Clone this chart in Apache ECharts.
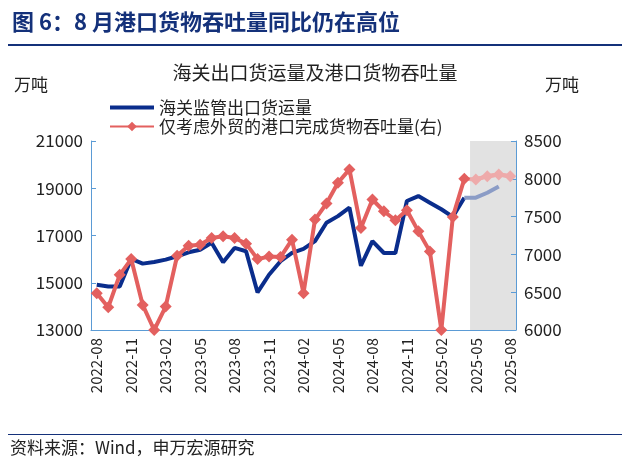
<!DOCTYPE html><html><head><meta charset="utf-8"><script src="https://cdn.jsdelivr.net/npm/echarts@6/dist/echarts.min.js"></script>
<style>body{margin:0}#c{width:630px;height:467px}</style></head><body><div id="c"></div><script>
const months=[];for(let y=2022,m=8;!(y==2025&&m==9);){months.push(y+'-'+String(m).padStart(2,'0'));m++;if(m>12){m=1;y++;}}
const customs=[14915,14845,14845,16007,15810,15880,15980,16120,16290,16400,16690,15865,16475,16333,14590,15340,15910,16260,16430,16760,17540,17820,18180,15720,16760,16260,16260,18460,18670,18390,18110,17790,18600,18600,18810,19070,null];
const port=[6487,6301,6730,6938,6332,6000,6310,6982,7115,7128,7217,7239,7217,7142,6938,6973,6965,7195,6487,7460,7673,7947,8124,7350,7726,7571,7451,7584,7305,7040,6000,7496,8000,7991,8035,8058,8035];
const splitIdx=32;
const solid=a=>a.map((v,i)=>i<=splitIdx?v:null), fut=a=>a.map((v,i)=>i>=splitIdx?v:null);
const blue='#0a2d8c',red='#e3605f',lred='#eeaaaa';
const ch=echarts.init(document.getElementById('c'));
const ff='"Noto Sans CJK SC"';
const graphics=[
{type:'text',left:12,top:11,style:{text:'图 6：8 月港口货物吞吐量同比仍在高位',fill:'#14317a',font:'bold 22px '+ff}},
{type:'rect',shape:{x:8,y:44,width:614,height:2},style:{fill:'#14317a'}},
{type:'text',left:14,top:76,style:{text:'万吨',fill:'#222',font:'17px '+ff}},
{type:'text',left:545,top:76,style:{text:'万吨',fill:'#222',font:'17px '+ff}},
{type:'rect',shape:{x:8,y:434,width:614,height:1},style:{fill:'#14317a'}},
{type:'text',left:10,top:439,style:{text:'资料来源：Wind，申万宏源研究',fill:'#222',font:'17px '+ff}}
];
const fmt=v=>String(v);
ch.setOption({animation:false,textStyle:{fontFamily:ff},graphic:graphics,
title:{text:'海关出口货运量及港口货物吞吐量',left:'center',top:58,textStyle:{fontSize:19,fontWeight:'normal',color:'#222',fontFamily:ff}},
legend:{orient:'vertical',left:104,top:94,itemGap:2,itemWidth:44,itemHeight:12,textStyle:{fontSize:17,color:'#222',fontFamily:ff},
 data:[{name:'海关监管出口货运量',icon:'path://M0,0h44v4h-44z'},'仅考虑外贸的港口完成货物吞吐量(右)']},
grid:{left:91,right:114,top:141,bottom:137},
xAxis:{type:'category',data:months,boundaryGap:true,axisLine:{lineStyle:{color:'#5b9bd5'}},
 axisTick:{interval:2,lineStyle:{color:'#5b9bd5'}},axisLabel:{interval:2,rotate:90,fontSize:15,color:'#222',margin:8}},
yAxis:[{type:'value',min:13000,max:21000,interval:2000,splitLine:{show:false},axisLine:{show:true,lineStyle:{color:'#5b9bd5'}},axisTick:{show:true,inside:true},axisLabel:{fontSize:17,color:'#222',formatter:fmt}},
{type:'value',min:6000,max:8500,interval:500,splitLine:{show:false},axisLine:{show:true,lineStyle:{color:'#5b9bd5'}},axisTick:{show:true,inside:true},axisLabel:{fontSize:17,color:'#222',formatter:fmt}}],
series:[
{name:'海关监管出口货运量',type:'line',data:solid(customs),symbol:'none',lineStyle:{color:blue,width:4},itemStyle:{color:blue},z:3},
{name:'海关监管出口货运量f',type:'line',data:fut(customs),symbol:'none',lineStyle:{color:'#8b9cc6',width:4},z:3},
{name:'仅考虑外贸的港口完成货物吞吐量(右)',type:'line',yAxisIndex:1,data:solid(port),symbol:'diamond',symbolSize:12,showAllSymbol:true,lineStyle:{color:red,width:4},itemStyle:{color:red},z:4},
{name:'rf',type:'line',yAxisIndex:1,data:fut(port).map((v,i)=>i==splitIdx?null:v),symbol:'diamond',symbolSize:12,showAllSymbol:true,lineStyle:{color:lred,width:4},itemStyle:{color:lred},z:4},
{name:'rf2',type:'line',yAxisIndex:1,data:fut(port),symbol:'none',lineStyle:{color:lred,width:4},z:3}
]});
const x0=(ch.convertToPixel({xAxisIndex:0},32)+ch.convertToPixel({xAxisIndex:0},33))/2;
const x1=630-114;
graphics.push({type:'rect',z:-1,shape:{x:x0,y:141,width:x1-x0,height:467-137-141},style:{fill:'#e2e2e2'}});
ch.setOption({graphic:graphics});
</script></body></html>
